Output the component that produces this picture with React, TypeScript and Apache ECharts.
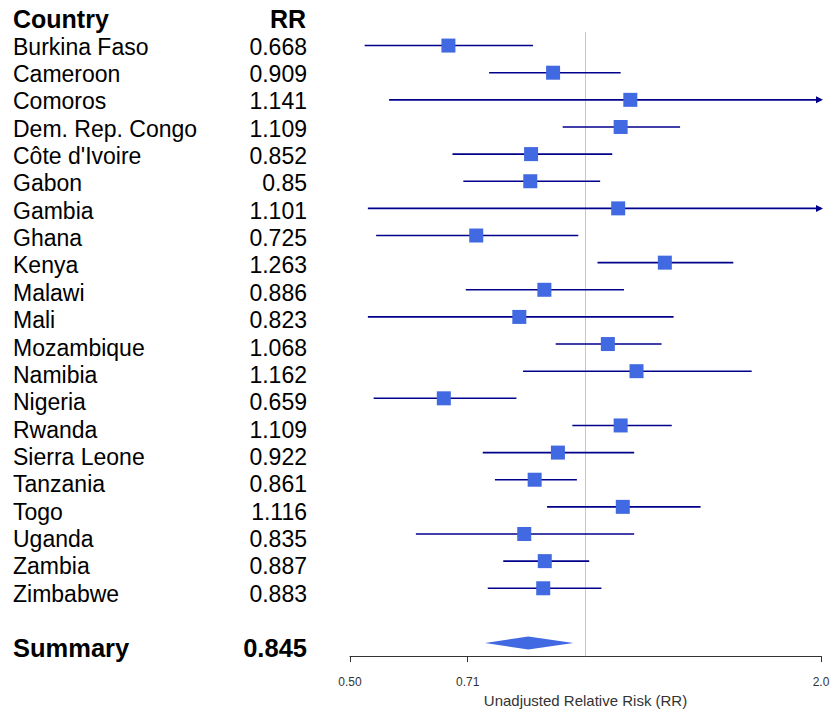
import React, { useEffect, useRef } from "react";
import * as echarts from "echarts";

const countries = [
  "Burkina Faso", "Cameroon", "Comoros", "Dem. Rep. Congo", "Côte d'Ivoire", "Gabon", "Gambia",
  "Ghana", "Kenya", "Malawi", "Mali", "Mozambique", "Namibia", "Nigeria", "Rwanda",
  "Sierra Leone", "Tanzania", "Togo", "Uganda", "Zambia", "Zimbabwe",
];
const rrValues = [
  0.668, 0.909, 1.141, 1.109, 0.852, 0.85, 1.101, 0.725, 1.263, 0.886, 0.823, 1.068, 1.162,
  0.659, 1.109, 0.922, 0.861, 1.116, 0.835, 0.887, 0.883,
];
const rrLabels = [
  "0.668", "0.909", "1.141", "1.109", "0.852", "0.85", "1.101", "0.725", "1.263", "0.886",
  "0.823", "1.068", "1.162", "0.659", "1.109", "0.922", "0.861", "1.116", "0.835", "0.887", "0.883",
];
const ciLower = [
  0.522, 0.753, 0.561, 0.935, 0.676, 0.698, 0.527, 0.54, 1.036, 0.703, 0.527, 0.916, 0.832,
  0.536, 0.962, 0.739, 0.766, 0.893, 0.607, 0.785, 0.75,
];
const ciUpper = [
  0.857, 1.109, 2.32, 1.321, 1.082, 1.044, 2.3, 0.979, 1.545, 1.12, 1.296, 1.251, 1.631,
  0.816, 1.289, 1.154, 0.975, 1.403, 1.154, 1.011, 1.048,
];
const summaryLabel = "Summary";
const summaryRR = 0.845;
const summaryRRLabel = "0.845";
const summaryLower = 0.744;
const summaryUpper = 0.965;

const xTickValues = [0.5, 0.7071, 2];
const xTickLabels = ["0.50", "0.71", "2.0"];
const xMin = 0.5;
const xMax = 2;
const xAxisName = "Unadjusted Relative Risk (RR)";
const headerCountry = "Country";
const headerRR = "RR";

const FONT = "'Liberation Sans', Arial, Helvetica, sans-serif";

export default function App() {
  const ref = useRef<HTMLDivElement>(null);

  useEffect(() => {
    document.body.style.margin = "0";
    const chart = echarts.init(ref.current!, null, { renderer: "svg" });
    const rows = [...countries, "", summaryLabel];
    const rowLabels = [...rrLabels, "", summaryRRLabel];
    const summaryIndex = rows.length - 1;

    const option: any = {
      animation: false,
      backgroundColor: "#ffffff",
      textStyle: { fontFamily: FONT },
      title: [
        {
          text: headerCountry,
          left: 13,
          top: 6.5,
          padding: 0,
          textStyle: { fontSize: 25, fontWeight: "bold", color: "#000", fontFamily: FONT },
        },
        {
          text: headerRR,
          right: 528,
          top: 6.5,
          padding: 0,
          textStyle: { fontSize: 25, fontWeight: "bold", color: "#000", fontFamily: FONT },
        },
      ],
      grid: [
        { left: 350, right: 13, top: 32, height: 629.1, containLabel: false },
        { left: 350, right: 13, top: 33, height: 629.05, containLabel: false },
      ],
      xAxis: [
        {
          type: "log",
          logBase: 2,
          gridIndex: 0,
          min: xMin,
          max: xMax,
          axisLine: { show: true, lineStyle: { color: "#333", width: 1 } },
          axisTick: {
            show: true,
            length: 6,
            inside: false,
            customValues: xTickValues,
            lineStyle: { color: "#333", width: 1 },
          },
          axisLabel: {
            customValues: xTickValues,
            fontSize: 12,
            color: "#333",
            margin: 20,
            fontFamily: FONT,
            formatter: (v: number) => {
              let best = 0;
              for (let i = 1; i < xTickValues.length; i++) {
                if (Math.abs(xTickValues[i] - v) < Math.abs(xTickValues[best] - v)) best = i;
              }
              return xTickLabels[best];
            },
          },
          splitLine: { show: false },
          name: xAxisName,
          nameLocation: "middle",
          nameGap: 33,
          nameTextStyle: { fontSize: 15, color: "#333", fontFamily: FONT },
        },
        { type: "value", gridIndex: 1, show: false, min: 0, max: 1 },
      ],
      yAxis: [
        {
          type: "category",
          gridIndex: 0,
          data: rows,
          inverse: true,
          axisLine: { show: false },
          axisTick: { show: false },
          axisLabel: { show: false },
          splitLine: { show: false },
        },
        {
          type: "category",
          gridIndex: 1,
          data: rows,
          inverse: true,
          position: "left",
          axisLine: { show: false },
          axisTick: { show: false },
          splitLine: { show: false },
          axisLabel: {
            show: true,
            interval: 0,
            align: "left",
            margin: 337,
            formatter: (v: string) => (v === summaryLabel ? `{b|${v}}` : `{n|${v}}`),
            rich: {
              n: { fontSize: 23, color: "#000", fontFamily: FONT },
              b: { fontSize: 25.5, fontWeight: "bold", color: "#000", fontFamily: FONT },
            },
          },
        },
        {
          type: "category",
          gridIndex: 1,
          data: rows,
          inverse: true,
          position: "left",
          axisLine: { show: false },
          axisTick: { show: false },
          splitLine: { show: false },
          axisLabel: {
            show: true,
            interval: 0,
            align: "right",
            margin: 43,
            formatter: (_v: string, idx: number) =>
              idx === summaryIndex ? `{b|${rowLabels[idx]}}` : `{n|${rowLabels[idx]}}`,
            rich: {
              n: { fontSize: 23, color: "#000", fontFamily: FONT },
              b: { fontSize: 25.5, fontWeight: "bold", color: "#000", fontFamily: FONT },
            },
          },
        },
      ],
      series: [
        {
          type: "custom",
          name: "ci",
          xAxisIndex: 0,
          yAxisIndex: 0,
          z: 2,
          encode: { x: [0, 1], y: 2 },
          data: ciLower.map((lo, i) => [lo, ciUpper[i], i]),
          renderItem: (params: any, api: any) => {
            const lo = api.value(0);
            const hi = api.value(1);
            const idx = api.value(2);
            const p1 = api.coord([lo, idx]);
            const p2 = api.coord([Math.min(hi, xMax), idx]);
            const children: any[] = [
              {
                type: "line",
                shape: { x1: p1[0], y1: p1[1], x2: p2[0], y2: p2[1] },
                style: { stroke: "#00008B", lineWidth: 1.6 },
              },
            ];
            if (hi > xMax) {
              children.push({
                type: "polygon",
                shape: {
                  points: [
                    [p2[0] - 5, p2[1] - 3.5],
                    [p2[0] + 2, p2[1]],
                    [p2[0] - 5, p2[1] + 3.5],
                  ],
                },
                style: { fill: "#00008B" },
              });
            }
            return { type: "group", children };
          },
        },
        {
          type: "custom",
          name: "summary",
          xAxisIndex: 0,
          yAxisIndex: 0,
          z: 3,
          encode: { x: [0, 1, 2], y: 3 },
          data: [[summaryLower, summaryRR, summaryUpper, summaryIndex]],
          renderItem: (params: any, api: any) => {
            const idx = api.value(3);
            const pl = api.coord([api.value(0), idx]);
            const pc = api.coord([api.value(1), idx]);
            const pr = api.coord([api.value(2), idx]);
            const h = 6.5;
            return {
              type: "polygon",
              shape: {
                points: [
                  [pl[0], pl[1] + 0.5],
                  [pc[0], pc[1] + 0.5 - h],
                  [pr[0], pr[1] + 0.5],
                  [pc[0], pc[1] + 0.5 + h],
                ],
              },
              style: { fill: "#4169E1" },
            };
          },
        },
        {
          type: "scatter",
          name: "RR",
          xAxisIndex: 0,
          yAxisIndex: 0,
          z: 4,
          symbol: "rect",
          symbolSize: 14,
          itemStyle: { color: "#4169E1", opacity: 1 },
          data: rrValues.map((v, i) => [v, i]),
          markLine: {
            silent: true,
            symbol: "none",
            label: { show: false },
            lineStyle: { color: "#c8c8c8", width: 1, type: "solid" },
            data: [{ xAxis: 1 }],
            z: 1,
          },
        },
      ],
    };
    chart.setOption(option);
    return () => chart.dispose();
  }, []);

  return <div ref={ref} style={{ width: 834, height: 713 }} />;
}
